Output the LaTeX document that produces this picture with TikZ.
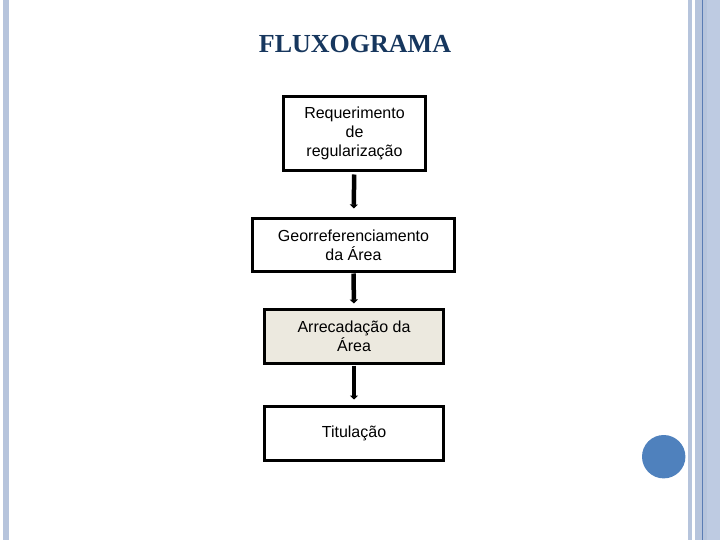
\documentclass[tikz,border=0pt]{standalone}
\usepackage{fontspec}
\setmainfont{Liberation Serif}
\newfontfamily\boxfont{Liberation Sans}
\usepackage{tikz}
\usetikzlibrary{arrows.meta, positioning}
\definecolor{titleblue}{RGB}{23,55,94}
\definecolor{barblue}{RGB}{182,196,220}
\definecolor{barline}{RGB}{90,124,180}
\definecolor{barpale}{RGB}{190,203,226}
\definecolor{dotblue}{RGB}{79,129,189}
\definecolor{stepbeige}{RGB}{236,233,223}

\begin{document}
\begin{tikzpicture}[
    x=1pt, y=-1pt,
    stepbox/.style={rectangle, draw, line width=3pt, outer sep=0pt, inner sep=2pt, align=center, font=\boxfont\fontsize{16}{19}\selectfont},
    flow/.style={-{Triangle[length=4pt, width=8pt]}, line width=4.5pt},
]
\useasboundingbox (0,0) rectangle (720,540);
\fill[white] (0,0) rectangle (720,540);

% === Side bars ===
\fill[barblue] (3,0) rectangle (9,540);
\fill[barblue] (688,0) rectangle (692,540);
\fill[barblue] (695,0) rectangle (707,540);
\fill[barline] (701.7,0) rectangle (703,540);
\fill[barpale] (707,0) rectangle (720,540);
\fill[dotblue] (663.7,456.7) circle (21.7);

% === Title ===
\node[font=\bfseries\fontsize{26}{30}\selectfont, text=titleblue] (title) at (355,44) {FLUXOGRAMA};

% === Steps ===
\node[stepbox, minimum width=142pt, minimum height=74pt] (req) at (354.5,133.5) {Requerimento\\de\\regularização};
\node[stepbox, minimum width=202pt, minimum height=53pt] (geo) at (353.5,245) {Georreferenciamento\\da Área};
\node[stepbox, fill=stepbeige, minimum width=179pt, minimum height=54pt] (arr) at (354,336.5) {Arrecadação da\\Área};
\node[stepbox, minimum width=179pt, minimum height=54pt] (tit) at (354,433.5) {Titulação};

% === Arrows ===
\draw[flow, shorten <=4pt, shorten >=10pt] (req) -- (geo);
\draw[flow, shorten <=2pt, shorten >=6pt] (geo) -- (arr);
\draw[flow, shorten <=2pt, shorten >=7pt] (arr) -- (tit);

\end{tikzpicture}
\end{document}
